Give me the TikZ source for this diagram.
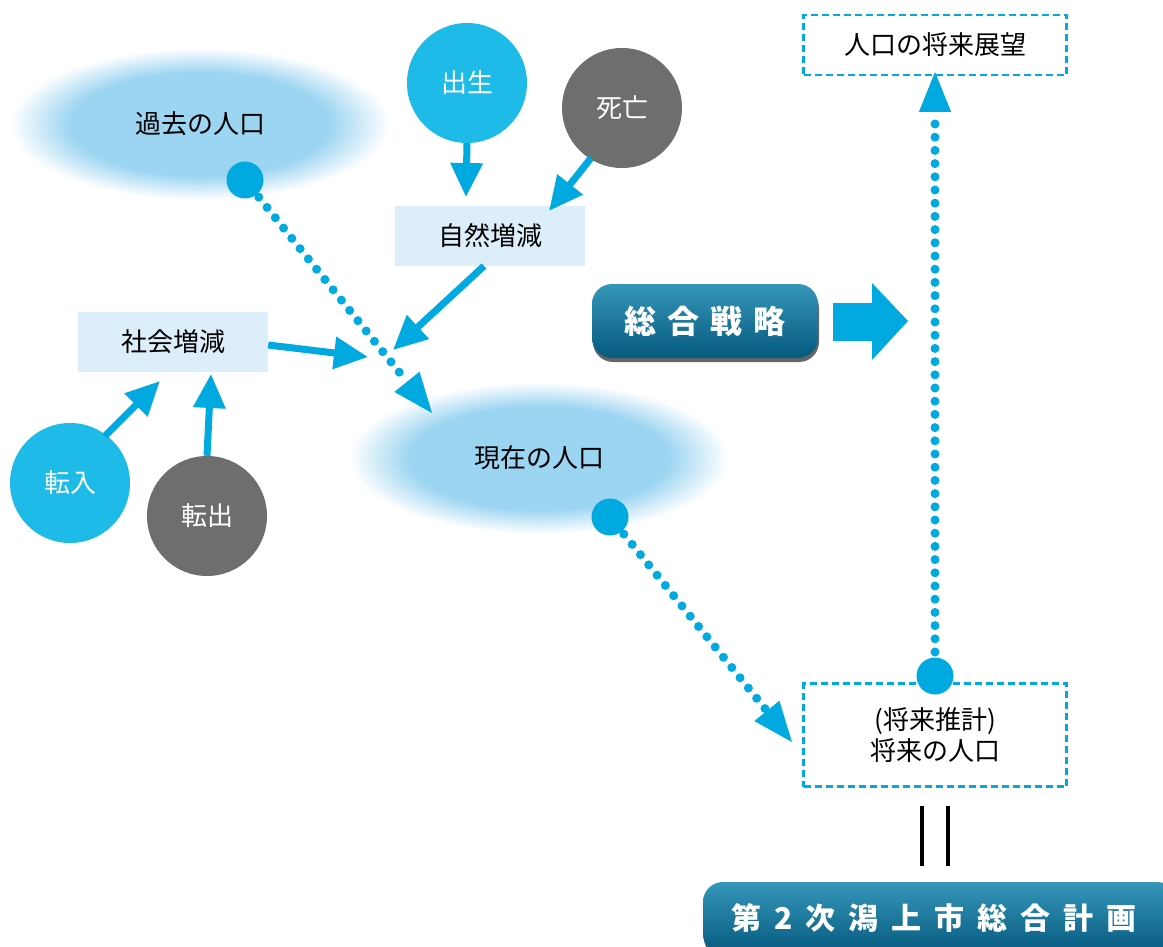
\documentclass[tikz,border=0pt]{standalone}
\usepackage{fontspec}
\setmainfont{Noto Sans CJK JP}
\usetikzlibrary{arrows.meta,calc,shapes.geometric,shadows}
\definecolor{cblue}{HTML}{1EBAE8}
\definecolor{dblue}{HTML}{00A9E0}
\definecolor{cgray}{HTML}{6E6E6E}
\definecolor{boxfill}{HTML}{DBEEFA}
\definecolor{ellc}{HTML}{9CD5F1}
\definecolor{btn}{HTML}{0A7DA5}
\definecolor{btntop}{HTML}{3596BA}
\definecolor{btnbot}{HTML}{065A7E}
\pgfdeclareradialshading{ellshade}{\pgfpoint{0bp}{0bp}}{color(0bp)=(ellc); color(17bp)=(ellc); color(25bp)=(white); color(50bp)=(white)}
\newcommand{\fs}[1]{\fontsize{#1}{#1}\selectfont}
\tikzset{
  popell/.style={ellipse, minimum width=380, minimum height=152, inner sep=0pt, shading=ellshade, font=\fs{26}},
  bigdot/.style={circle, fill=dblue, minimum size=37, inner sep=0pt},
  bubble/.style={circle, minimum size=120, inner sep=0pt, text=white, font=\fs{26}},
  lbox/.style={rectangle, fill=boxfill, minimum width=190, minimum height=60, inner sep=0pt, font=\fs{26}},
  dbox/.style={rectangle, draw=dblue, line width=2.6pt, dash pattern=on 7pt off 4pt, inner sep=0pt, font=\fs{26}},
  conn/.style={draw=dblue, line width=7pt, -{Triangle[length=34pt,width=31pt]}},
  dots/.style={draw=dblue, line width=9pt, line cap=round, dash pattern=on 0pt off 13.2pt},
  head/.style={draw=dblue, line width=1pt, -{Triangle[length=40pt,width=32pt]}},
  btnbox/.style={rectangle, rounded corners=20pt, top color=btntop, middle color=btn, bottom color=btnbot, text=white, inner sep=0pt, font=\bfseries\fs{32},
     drop shadow={shadow xshift=1pt, shadow yshift=-4pt, opacity=0.6, fill=black}},
}
\begin{document}
\begin{tikzpicture}[x=1pt,y=-1pt]
\useasboundingbox (0,0) rectangle (1163,947);
% ellipses
\node[popell] (past) at (200,124) {過去の人口};
\node[popell] (now) at (539,458) {現在の人口};
% boxes
\node[lbox] (nat) at (490,236) {自然増減};
\node[lbox] (soc) at (173,342) {社会増減};
% bubbles
\node[bubble, fill=cblue] (birth) at (467,83) {出生};
\node[bubble, fill=cgray] (death) at (622,108) {死亡};
\node[bubble, fill=cblue] (in) at (70,483) {転入};
\node[bubble, fill=cgray] (out) at (207,516) {転出};
% dashed boxes
\node[dbox, minimum width=263, minimum height=60] (vision) at (935,45) {人口の将来展望};
\node[dbox, minimum width=263, minimum height=103, align=center, font={\fontsize{26}{31}\selectfont}] (future) at (935,735) {(将来推計)\\将来の人口};
% big dots
\node[bigdot] (d1) at (245,180) {};
\node[bigdot] (d2) at (610,517) {};
% buttons
\node[btnbox, minimum width=226, minimum height=74] (strat) at (705,321) {総\hspace{11pt}合\hspace{11pt}戦\hspace{11pt}略};
\node[btnbox, minimum width=474, minimum height=72, font=\bfseries\fs{30}] (plan) at (940,918) {\hspace{-12pt}第\hspace{13pt}2\hspace{13pt}次\hspace{13pt}潟\hspace{13pt}上\hspace{13pt}市\hspace{13pt}総\hspace{13pt}合\hspace{13pt}計\hspace{13pt}画};
\node[bigdot] (d3) at (935,676) {};
% coordinates
\coordinate (t1) at (432,413);
\coordinate (t2) at (792,742);
\coordinate (t3) at (935,72);
\coordinate (m1) at (393,350);
\coordinate (m2) at (368,357);
% solid connectors
\draw[conn] (birth.south) -- (466,197);
\draw[conn] (591,158) -- (549,211);
\draw[conn] (484,266) -- (m1);
\draw[conn] (soc.east |- 0,345) -- (m2);
\draw[conn] (105,436) -- (160,381);
\draw[conn] (out.north) -- (211,374);
% dotted connectors
\draw[dots] ($(d1)!22pt!(t1)$) -- ($(t1)!40pt!(d1)$);
\draw[head] ($(t1)!39pt!(d1)$) -- (t1);
\draw[dots] ($(d2)!22pt!(t2)$) -- ($(t2)!40pt!(d2)$);
\draw[head] ($(t2)!39pt!(d2)$) -- (t2);
\draw[dots] ($(d3)!24pt!(t3)$) -- ($(t3)!40pt!(d3)$);
\draw[head] ($(t3)!39pt!(d3)$) -- (t3);
% big arrow
\fill[dblue] (833,303) -- (872,303) -- (872,283) -- (908,321) -- (872,360) -- (872,341) -- (833,341) -- cycle;
% equals bars
\draw[line width=4pt] (922,806) -- (922,866);
\draw[line width=4pt] (948,806) -- (948,866);
\end{tikzpicture}
\end{document}
